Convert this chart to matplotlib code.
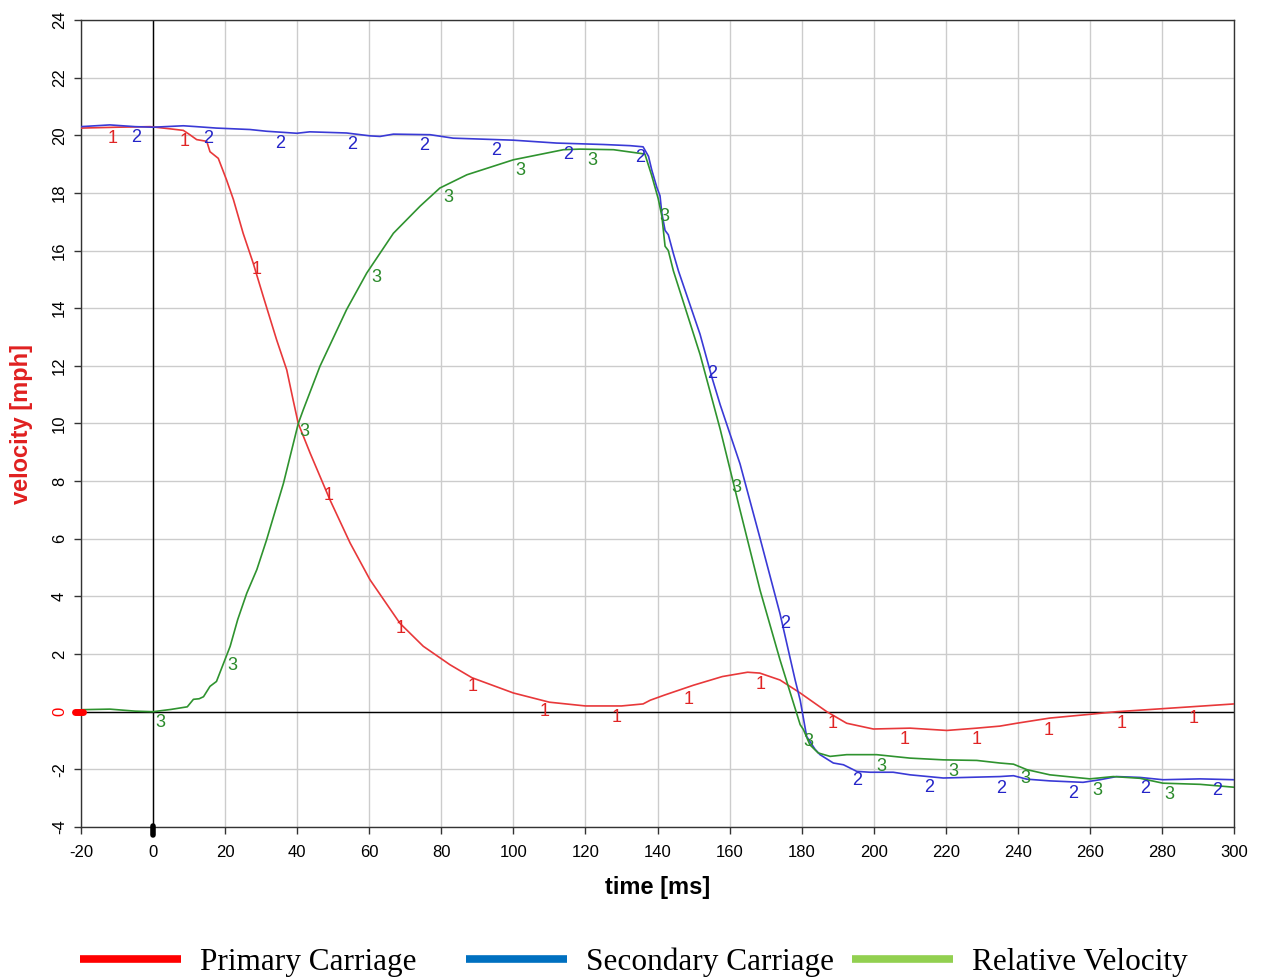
import numpy as np
import matplotlib
matplotlib.use("Agg")
import matplotlib.pyplot as plt
from matplotlib.lines import Line2D

plt.rcParams["axes.unicode_minus"] = False

# primary carriage (series 1)
t_primary = [-20, -10, -0.8, 5, 8.4, 10.2, 12.1, 14.9, 15.8, 18.1, 20.4, 22.3, 25.0, 27.8,
             30.6, 34.3, 37.1, 38.9, 40.3, 43.6, 49.1, 54.7, 60.2, 68.5, 75.0, 82.4, 88.5,
             100, 110, 120, 130, 136, 138, 142, 150, 158, 165, 168.4, 174, 179.6, 187,
             192.5, 199.9, 210.1, 220.3, 228.6, 235, 239.7, 248.9, 260, 267.4, 279.5, 300]
v_primary = [20.25, 20.28, 20.3, 20.22, 20.17, 20.02, 19.85, 19.79, 19.43, 19.2, 18.45, 17.77,
             16.6, 15.56, 14.4, 12.9, 11.86, 10.8, 10.0, 8.97, 7.35, 5.85, 4.58, 3.07, 2.27,
             1.63, 1.18, 0.65, 0.33, 0.2, 0.2, 0.27, 0.4, 0.58, 0.92, 1.22, 1.37, 1.34, 1.1,
             0.65, 0.0, -0.4, -0.6, -0.57, -0.65, -0.57, -0.5, -0.4, -0.22, -0.09, 0.0, 0.1, 0.27]

# secondary carriage (series 2)
t_secondary = [-20, -12, -5, 0, 8.4, 12, 17.6, 26.9, 31.5, 39.9, 43.5, 53.7, 60.2, 63, 66.7,
               76.9, 83.3, 100, 112, 125, 132.4, 136, 137.5, 138.4, 139.8, 140.7, 141.2,
               142.1, 143, 144.4, 145.8, 151.8, 155.1, 157.4, 162.9, 168.5, 174, 178.2,
               179.6, 181.4, 183.7, 185.1, 188.8, 191.6, 195.3, 199, 205.4, 210.1, 219.3,
               228.6, 235, 238.8, 242.5, 248.9, 258.1, 262.8, 267.4, 273.9, 280.3, 290.6, 300]
v_secondary = [20.3, 20.36, 20.3, 20.28, 20.33, 20.3, 20.25, 20.2, 20.14, 20.07, 20.12, 20.08,
               19.98, 19.96, 20.04, 20.02, 19.9, 19.83, 19.73, 19.68, 19.64, 19.6, 19.27, 18.8,
               18.2, 17.9, 17.3, 16.7, 16.55, 15.9, 15.3, 13.1, 11.6, 10.65, 8.6, 6.0, 3.4,
               1.1, 0.4, -0.86, -1.3, -1.49, -1.78, -1.84, -2.07, -2.1, -2.1, -2.19, -2.3,
               -2.27, -2.25, -2.22, -2.34, -2.4, -2.45, -2.36, -2.25, -2.28, -2.36, -2.33, -2.36]

# relative velocity (series 3)
t_relative = [-20, -12, -5, 0, 5, 9.5, 11.2, 12.8, 14, 15.8, 17.6, 19, 21.4, 23.5, 26, 28.8,
              31.5, 36.2, 40.3, 41.7, 46.3, 53.7, 59.3, 66.7, 74.1, 79.6, 87.1, 100, 113.9,
              118.5, 127.8, 132.4, 136.5, 138.4, 140.2, 141.2, 142.1, 143, 144.4, 151.8,
              157.4, 162.9, 168.5, 174, 179.6, 180.5, 182.3, 184.6, 187.9, 192.5, 200.8,
              205.4, 210.1, 219.3, 228.6, 235, 238.8, 242.5, 248.9, 260, 266.5, 273.9,
              280.3, 290.6, 300]
v_relative = [0.07, 0.09, 0.02, 0.0, 0.08, 0.17, 0.43, 0.45, 0.52, 0.88, 1.05, 1.5, 2.27, 3.2,
              4.11, 4.93, 5.96, 7.93, 10.0, 10.48, 11.98, 13.95, 15.22, 16.6, 17.54, 18.17,
              18.63, 19.15, 19.5, 19.52, 19.5, 19.42, 19.35, 18.6, 17.8, 17.2, 16.15, 16.0,
              15.3, 12.4, 9.8, 7.0, 4.2, 1.8, -0.45, -0.62, -1.15, -1.43, -1.55, -1.49, -1.49,
              -1.55, -1.61, -1.67, -1.69, -1.78, -1.82, -2.01, -2.19, -2.33, -2.25, -2.31,
              -2.48, -2.52, -2.62]

# where the curve-number tags sit (first tag time, every 20 ms)
tag_start = {"1": -11.3, "2": -4.7, "3": 2.0}

legend_names = ["Primary Carriage", "Secondary Carriage", "Relative Velocity"]
legend_colors = ["#ff0000", "#0070c0", "#92d050"]

x_ticks = list(range(-20, 301, 20))
y_ticks = list(range(-4, 25, 2))

series = [
    ("1", t_primary, v_primary, "#e8383a", "#e02424"),
    ("2", t_secondary, v_secondary, "#3a3ad6", "#2424c8"),
    ("3", t_relative, v_relative, "#2f932f", "#2a8a2a"),
]

fig = plt.figure(figsize=(12.63, 9.8), dpi=100)
ax = fig.add_axes([81 / 1263, 153 / 980, 1153 / 1263, 807 / 980])

ax.set_xlim(-20, 300)
ax.set_ylim(-4, 24)
ax.set_xticks(x_ticks)
ax.set_yticks(y_ticks, labels=[str(v) for v in y_ticks])
ax.grid(True, color="#cccccc", lw=1.0)
ax.set_axisbelow(True)
ax.axhline(0, color="black", lw=1.0, zorder=1.5)
ax.axvline(0, color="black", lw=1.0, zorder=1.5)

for tag, t, v, lc, tc in series:
    ax.plot(t, v, color=lc, lw=1.2, zorder=3)
    xs = np.arange(tag_start[tag], 300, 20.0)
    for xl in xs:
        xa = xl - 1.4
        ya = np.interp(xa, t, v)
        ax.annotate(tag, (xa, ya), xytext=(3.6, -8.2), textcoords="offset points",
                    ha="center", va="center", fontsize=13, color=tc,
                    family="Liberation Sans", zorder=4)

# trigger marks on the axes
ax.plot([-21.6, -19.4], [0, 0], color="red", lw=5, solid_capstyle="round",
        clip_on=False, zorder=5)
ax.plot([0, 0], [-3.95, -4.28], color="black", lw=4, solid_capstyle="round",
        clip_on=False, zorder=5)

for s in ax.spines.values():
    s.set_color("#333333")
    s.set_linewidth(1.0)

ax.tick_params(axis="both", length=5, width=1, color="#333333", labelsize=12,
               direction="out")
ax.tick_params(axis="x", pad=8)
ax.tick_params(axis="y", pad=5)
for lbl in ax.get_xticklabels() + ax.get_yticklabels():
    lbl.set_family("Liberation Sans")
for lbl in ax.get_yticklabels():
    lbl.set_rotation(90)
    lbl.set_va("center")
ax.get_yticklabels()[y_ticks.index(0)].set_color("red")

ax.set_xlabel("time [ms]", fontsize=17, fontweight="bold", family="Liberation Sans",
              va="center", ha="center")
ax.xaxis.set_label_coords(0.5, -60 / 807)
ax.set_ylabel("velocity [mph]", fontsize=17, fontweight="bold", color="#e02020",
              family="Liberation Sans", va="center", ha="center")
ax.yaxis.set_label_coords(-59 / 1153, 0.5)

# legend strip under the chart
for i, (name, col) in enumerate(zip(legend_names, legend_colors)):
    x0 = (80 + 386 * i) / 1263
    fig.add_artist(Line2D([x0, x0 + 101 / 1263], [21 / 980, 21 / 980], color=col, lw=5.5,
                          solid_capstyle="butt"))
    fig.text(x0 + 120 / 1263, 10 / 980, name, fontsize=22.5, family="Liberation Serif",
             va="baseline", ha="left")

fig.savefig("out.png", dpi=100)
